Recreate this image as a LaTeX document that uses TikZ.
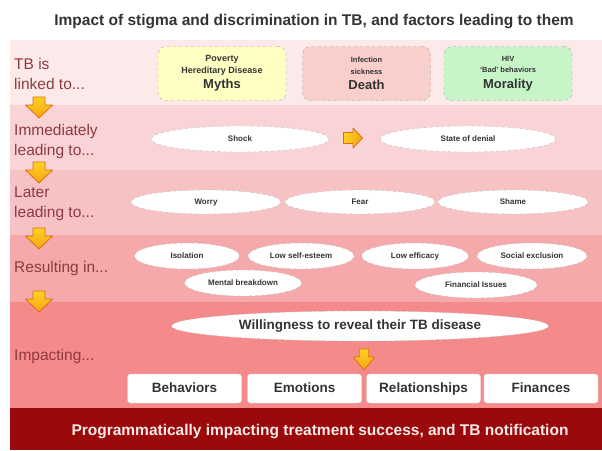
\documentclass[tikz,border=0pt]{standalone}
\usepackage{fontspec}
\setmainfont{Liberation Sans}
\usetikzlibrary{positioning,shapes.geometric}
\definecolor{ink}{HTML}{333333}
\definecolor{maroon}{HTML}{8E3B40}
\definecolor{bandA}{HTML}{FCEAEA}
\definecolor{bandB}{HTML}{F9D3D5}
\definecolor{bandC}{HTML}{F7C2C4}
\definecolor{bandD}{HTML}{F5A9AB}
\definecolor{bandE}{HTML}{F58A8B}
\definecolor{darkred}{HTML}{9B0A0A}
\definecolor{paleyellow}{HTML}{FFFFC4}
\definecolor{palepink}{HTML}{F8CFCB}
\definecolor{palegreen}{HTML}{C8F5C8}
\definecolor{amber}{HTML}{FFD21E}
\definecolor{tangerine}{HTML}{F7A21B}
\definecolor{rust}{HTML}{D9700F}

\begin{document}
\begin{tikzpicture}[x=1pt,y=-1pt,
  lbl/.style={anchor=west, align=left, inner sep=0, text=maroon,
              font=\fontsize{15.5}{20}\selectfont},
  linkbox/.style={rounded corners=8pt, draw=gray!70, dashed, minimum width=128pt,
              minimum height=54pt, align=center, text=ink, inner sep=0,
              font=\fontsize{7.5}{11.5}\selectfont\bfseries},
  cloud/.style={ellipse, draw=gray!50, dashed, fill=white, inner sep=0,
              minimum height=26pt, text=ink, text height=6pt, text depth=1.6pt,
              font=\fontsize{8}{9}\selectfont\bfseries},
  areabox/.style={rounded corners=3pt, draw=gray!30, fill=white, minimum width=114pt,
              minimum height=29pt, text=ink, text height=10pt, text depth=2.8pt,
              font=\fontsize{13.5}{15}\selectfont\bfseries},
  blockdown/.pic={\shade[top color=amber, bottom color=tangerine, draw=rust,
              line width=0.8pt, line join=round]
              (-6,-10) -- (6,-10) -- (6,-2) -- (13.5,-2) -- (0,11)
              -- (-13.5,-2) -- (-6,-2) -- cycle;},
  blockright/.pic={\shade[left color=amber, right color=tangerine, draw=rust,
              line width=0.8pt, line join=round]
              (-9.5,-5.5) -- (0,-5.5) -- (0,-10) -- (9.5,0) -- (0,10)
              -- (0,5.5) -- (-9.5,5.5) -- cycle;}]
\useasboundingbox (0,0) rectangle (602,450);
\fill[white] (0,0) rectangle (602,450);
\fill[bandA] (10,40) rectangle (602,105);
\fill[bandB] (10,105) rectangle (602,170);
\fill[bandC] (10,170) rectangle (602,235);
\fill[bandD] (10,235) rectangle (602,302);
\fill[bandE] (10,302) rectangle (602,408);
\fill[darkred] (10,408) rectangle (602,450);

\node[text=ink, font=\fontsize{15.5}{18}\selectfont\bfseries] (title) at (314,22)
  {Impact of stigma and discrimination in TB, and factors leading to them};

\node[lbl] (linked) at (14,74) {TB is\\linked to...};
\node[lbl] (immediately) at (14,141) {Immediately\\leading to...};
\node[lbl] (later) at (14,204) {Later\\leading to...};
\node[lbl] (resulting) at (14,268) {Resulting in...};
\node[lbl] (impacting) at (14,356) {Impacting...};

\pic at (39,107) {blockdown};
\pic at (39,172) {blockdown};
\pic at (39,238) {blockdown};
\pic at (39,301) {blockdown};

\node[linkbox, fill=paleyellow, font=\fontsize{9}{11.5}\selectfont\bfseries] (myths)
  at (222,73.5) {Poverty\\Hereditary Disease\\[4pt]{\fontsize{13}{15}\selectfont Myths}};
\node[linkbox, fill=palepink] (death) at (366.5,73.5)
  {Infection\\sickness\\[4pt]{\fontsize{13}{15}\selectfont Death}};
\node[linkbox, fill=palegreen] (morality) at (508,73.5)
  {HIV\\`Bad' behaviors\\[4pt]{\fontsize{13}{15}\selectfont Morality}};

\node[cloud, minimum width=178pt] (shock) at (240,139) {Shock};
\node[cloud, minimum width=176pt] (denial) at (468,139) {State of denial};
\pic at (353,138) {blockright};

\node[cloud, minimum width=150pt, minimum height=24pt] (worry) at (206,202) {Worry};
\node[cloud, minimum width=150pt, minimum height=24pt] (fear) at (360,202) {Fear};
\node[cloud, minimum width=150pt, minimum height=24pt] (shame) at (513,202) {Shame};

\node[cloud, minimum width=105pt] (isolation) at (187,256) {Isolation};
\node[cloud, minimum width=106pt] (esteem) at (301,256) {Low self-esteem};
\node[cloud, minimum width=107pt] (efficacy) at (415,256) {Low efficacy};
\node[cloud, minimum width=110pt] (exclusion) at (532,256) {Social exclusion};
\node[cloud, minimum width=117pt] (breakdown) at (243,283) {Mental breakdown};
\node[cloud, minimum width=122pt] (financial) at (476,285) {Financial Issues};

\node[cloud, minimum width=377pt, minimum height=30pt, text height=10pt,
      text depth=2.8pt, font=\fontsize{13.5}{15}\selectfont\bfseries] (reveal) at (360,326)
  {Willingness to reveal their TB disease};
\pic[xscale=0.8] at (364,359) {blockdown};

\node[areabox] (behaviors) at (184.5,388.5) {Behaviors};
\node[areabox] (emotions) at (304.5,388.5) {Emotions};
\node[areabox] (relationships) at (423.5,388.5) {Relationships};
\node[areabox] (finances) at (541,388.5) {Finances};

\node[text=bandA, font=\fontsize{15.5}{18}\selectfont\bfseries] (outcome) at (320,432)
  {Programmatically impacting treatment success, and TB notification};
\end{tikzpicture}
\end{document}
